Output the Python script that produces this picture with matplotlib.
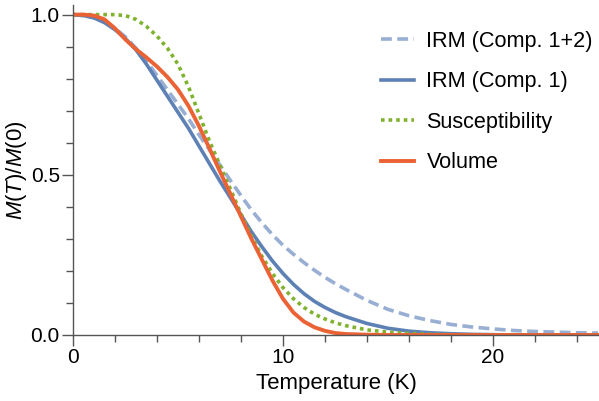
import matplotlib
matplotlib.use('Agg')
import matplotlib.pyplot as plt
from matplotlib.ticker import MultipleLocator

plt.rcParams['font.family'] = ['Liberation Sans', 'DejaVu Sans']
plt.rcParams['mathtext.fontset'] = 'custom'
plt.rcParams['mathtext.it'] = 'Liberation Sans:italic'
plt.rcParams['mathtext.rm'] = 'Liberation Sans'

# Temperature grid (K)
temps = [0, 0.5, 1, 1.5, 2, 2.5, 3, 3.5, 4, 4.5, 5, 5.5, 6, 6.5, 7, 7.5, 8, 8.5,
         9, 9.5, 10, 10.5, 11, 11.5, 12, 12.5, 13, 14, 15, 16, 17, 18, 19, 20,
         21, 22, 23, 24, 25]

# Normalised magnetisation M(T)/M(0)
irm_12 = [1.0, 0.997, 0.99, 0.977, 0.957, 0.93, 0.895, 0.855, 0.81, 0.765, 0.72,
          0.675, 0.625, 0.578, 0.53, 0.482, 0.435, 0.39, 0.35, 0.313, 0.28, 0.252,
          0.226, 0.202, 0.18, 0.16, 0.142, 0.108, 0.08, 0.06, 0.045, 0.033,
          0.025, 0.019, 0.014, 0.011, 0.009, 0.007, 0.006]
irm_1 = [1.0, 0.997, 0.99, 0.975, 0.953, 0.925, 0.89, 0.845, 0.795, 0.745, 0.695,
         0.645, 0.59, 0.535, 0.48, 0.428, 0.375, 0.322, 0.275, 0.231, 0.192, 0.158,
         0.129, 0.105, 0.086, 0.07, 0.057, 0.036, 0.021, 0.012, 0.007, 0.004,
         0.002, 0.001, 0.0, 0.0, 0.0, 0.0, 0.0]
suscept = [1.0, 1.0, 1.0, 1.0, 1.0, 0.997, 0.985, 0.963, 0.933, 0.895, 0.845,
           0.775, 0.69, 0.605, 0.53, 0.455, 0.378, 0.308, 0.245, 0.192, 0.148,
           0.113, 0.086, 0.065, 0.05, 0.038, 0.029, 0.016, 0.009, 0.005, 0.002,
           0.001, 0.0, 0.0, 0.0, 0.0, 0.0, 0.0, 0.0]
volume = [1.0, 1.0, 0.997, 0.985, 0.957, 0.922, 0.892, 0.866, 0.838, 0.805, 0.766,
          0.715, 0.652, 0.582, 0.51, 0.44, 0.37, 0.3, 0.235, 0.17, 0.113, 0.07,
          0.042, 0.024, 0.013, 0.006, 0.003, 0.001, 0.0, 0.0, 0.0, 0.0, 0.0, 0.0,
          0.0, 0.0, 0.0, 0.0, 0.0]

fig = plt.figure(figsize=(5.99, 4.01), dpi=100)
ax = fig.add_axes([73 / 599, 66 / 401, 526 / 599, 330 / 401])

ax.plot(temps, irm_12, color='#98AED3', lw=2.6, linestyle=(0, (3.0, 1.5)),
        label='IRM (Comp. 1+2)')
ax.plot(temps, irm_1, color='#5E81B5', lw=2.6, label='IRM (Comp. 1)')
ax.plot(temps, suscept, color='#7FB32E', lw=2.6, linestyle=(0, (1, 1.1)),
        label='Susceptibility')
ax.plot(temps, volume, color='#EB6235', lw=2.8, label='Volume')

ax.set_xlim(0, 25.05)
ax.set_ylim(0, 1.03)
ax.spines['top'].set_visible(False)
ax.spines['right'].set_visible(False)
for s in ['left', 'bottom']:
    ax.spines[s].set_color('#555555')
    ax.spines[s].set_linewidth(1.0)

ax.xaxis.set_major_locator(MultipleLocator(10))
ax.xaxis.set_minor_locator(MultipleLocator(2))
ax.yaxis.set_major_locator(MultipleLocator(0.5))
ax.yaxis.set_minor_locator(MultipleLocator(0.1))
ax.yaxis.set_major_formatter(plt.FormatStrFormatter('%.1f'))
ax.tick_params(which='major', length=8, width=1.0, color='#555555',
               labelsize=15, pad=1.5)
ax.tick_params(which='minor', length=5, width=1.0, color='#555555')

ax.set_xlabel('Temperature (K)', fontsize=16, labelpad=4)
ax.set_ylabel(r'$M$($T$)/$M$(0)', fontsize=16, labelpad=1)

ax.legend(loc='upper left', bbox_to_anchor=(381 / 599, 1 - 31 / 401),
          bbox_transform=fig.transFigure, frameon=False, fontsize=15.6,
          handlelength=1.5, handletextpad=0.6, labelspacing=0.9,
          borderaxespad=0, borderpad=0)

fig.savefig('out.png', dpi=100)
